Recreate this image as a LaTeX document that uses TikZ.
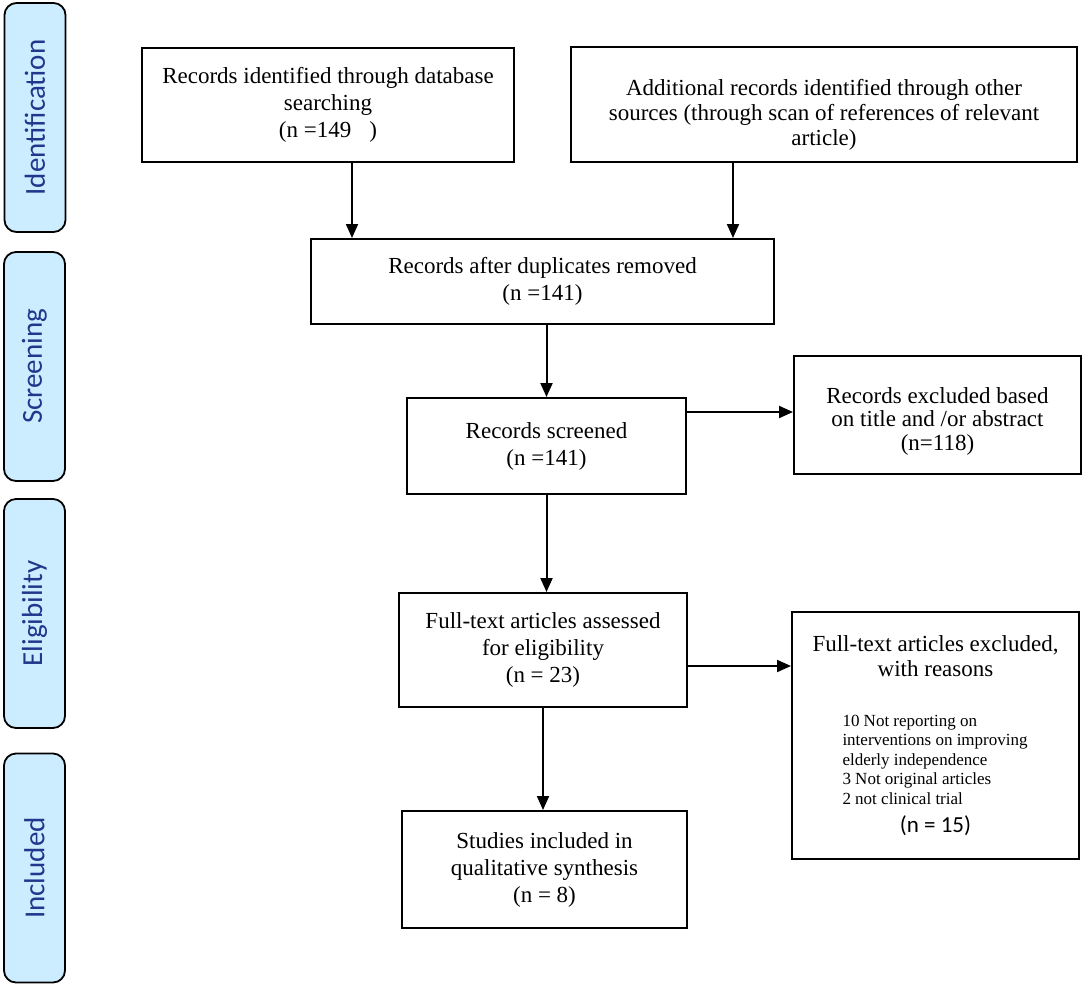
\documentclass[tikz,border=0pt]{standalone}
\usepackage{fontspec}
\setmainfont{Liberation Serif}
\newfontfamily\calibri{Carlito}
\usetikzlibrary{arrows.meta}
\definecolor{phasefill}{RGB}{204,236,255}
\definecolor{phasetext}{RGB}{32,56,140}

\begin{document}
\begin{tikzpicture}[x=1pt,y=-1pt,font=\fontsize{23}{27}\selectfont,
    box/.style={draw,line width=2pt,align=center,inner sep=0pt},
    phase/.style={draw,line width=1.8pt,rounded corners=12pt,fill=phasefill,rotate=90,
      minimum width=229pt,minimum height=61pt,text=phasetext,
      font=\calibri\fontsize{29}{32}\selectfont},
    arr/.style={line width=2pt,-{Triangle[length=14pt,width=12pt]}}]
  \useasboundingbox (0,0) rectangle (1084,986);
  \node[phase] (ident) at (35,117.5) {Identification};
  \node[phase] (screen) at (34.5,366.5) {Screening};
  \node[phase] (elig) at (34.5,613.5) {Eligibility};
  \node[phase] (incl) at (34.5,868) {Included};

  \node[box,minimum width=372pt,minimum height=114pt] (db) at (328,105)
    {Records identified through database\\searching\\(n =149\hspace{18pt})};
  \node[box,minimum width=506pt,minimum height=115pt,font=\fontsize{23}{25}\selectfont] (other) at (824,104.5)
    {\rule{0pt}{36pt}Additional records identified through other\\sources (through scan of references of relevant\\article)};
  \node[box,minimum width=463pt,minimum height=85pt] (dup) at (542.5,281.5)
    {Records after duplicates removed\\(n =141)};
  \node[box,minimum width=279pt,minimum height=96pt] (scr) at (546.5,446)
    {Records screened\\(n =141)};
  \node[box,minimum width=287pt,minimum height=118pt,font=\fontsize{23}{23.5}\selectfont] (excl) at (937.5,415)
    {\rule{0pt}{28pt}Records excluded based\\on title and /or abstract\\(n=118)};
  \node[box,minimum width=288pt,minimum height=114pt] (full) at (543,650)
    {Full-text articles assessed\\for eligibility\\(n = 23)};
  \node[box,minimum width=287pt,minimum height=247pt,font=\fontsize{23}{25}\selectfont] (fexcl) at (935.5,735.5)
    {Full-text articles excluded,\\with reasons\\[37pt]
     \parbox{186pt}{\fontsize{17}{19.5}\selectfont 10 Not reporting on\\interventions on improving\\elderly independence\\3 Not original articles\\2 not clinical trial}\\[10pt]
     {\calibri (n = 15)}};
  \node[box,minimum width=285pt,minimum height=117pt] (study) at (544.5,869.5)
    {Studies included in\\qualitative synthesis\\(n = 8)};

  \coordinate (dbout) at ([xshift=24pt]db.south);
  \coordinate (otherout) at ([xshift=-91pt]other.south);
  \coordinate (scrout) at ([yshift=34pt]scr.east);
  \coordinate (fullout) at ([yshift=-16pt]full.east);
  \draw[arr] (dbout) -- (dbout |- dup.north);
  \draw[arr] (otherout) -- (otherout |- dup.north);
  \draw[arr] (scr.north |- dup.south) -- (scr.north);
  \draw[arr] (scrout) -- (scrout -| excl.west);
  \draw[arr] (scr.south) -- (scr.south |- full.north);
  \draw[arr] (fullout) -- (fullout -| fexcl.west);
  \draw[arr] (full.south) -- (full.south |- study.north);
\end{tikzpicture}
\end{document}
